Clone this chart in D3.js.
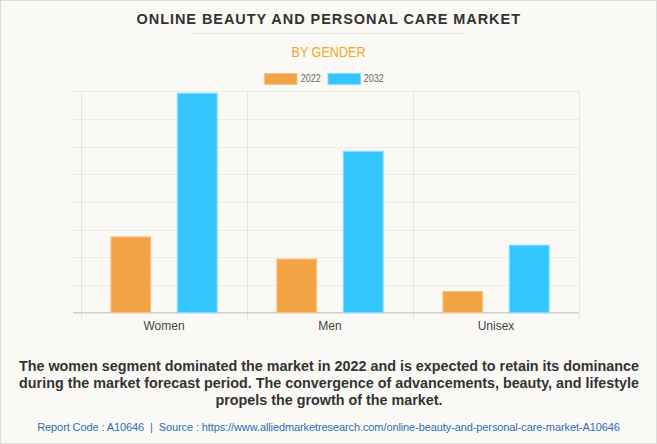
<!DOCTYPE html>
<html>
<head>
<meta charset="utf-8">
<script src="https://cdn.jsdelivr.net/npm/d3@7"></script>
<style>
  html, body { margin: 0; padding: 0; background: #fff; }
  svg { display: block; }
</style>
</head>
<body>
<script>
const categories = ["Women", "Men", "Unisex"];
const seriesNames = ["2022", "2032"];
const values2022 = [2.74, 1.94, 0.77];
const values2032 = [7.93, 5.83, 2.44];
const yTicks = [0, 1, 2, 3, 4, 5, 6, 7, 8];
const colors = ["#f2a444", "#33c6ff"];
const borderColors = ["#f7c68a", "#7fdcff"];

(function () {
const W = 657, H = 444;
const svg = d3.select("body").append("svg").attr("width", W).attr("height", H);

svg.append("rect").attr("x", 0.5).attr("y", 0.5).attr("width", W - 1).attr("height", H - 1)
  .attr("fill", "#faf9f5").attr("stroke", "#dddddd");

// Title
svg.append("text").attr("x", 136.5).attr("y", 24.3)
  .attr("font-family", "Liberation Sans, Arial, sans-serif").attr("font-weight", "bold")
  .attr("font-size", 14.5).attr("fill", "#333")
  .attr("textLength", 383.5).attr("lengthAdjust", "spacing")
  .text("ONLINE BEAUTY AND PERSONAL CARE MARKET");
svg.append("line").attr("x1", 193).attr("x2", 463).attr("y1", 33.5).attr("y2", 33.5)
  .attr("stroke", "#e6e6e6").attr("stroke-width", 1.5);
svg.append("text").attr("x", 291.5).attr("y", 57.3)
  .attr("font-family", "Liberation Sans, Arial, sans-serif")
  .attr("font-size", 14.8).attr("fill", "#f5a623")
  .attr("textLength", 74).attr("lengthAdjust", "spacingAndGlyphs")
  .text("BY GENDER");

// Legend
const legend = [{x: 264, tx: 300.7}, {x: 327.5, tx: 363.7}];
seriesNames.forEach((s, i) => {
  svg.append("rect").attr("x", legend[i].x + 0.5).attr("y", 73.5).attr("width", 32.5).attr("height", 11)
    .attr("fill", colors[i]).attr("stroke", borderColors[i]);
  svg.append("text").attr("x", legend[i].tx).attr("y", 81.5)
    .attr("font-family", "Liberation Sans, Arial, sans-serif")
    .attr("font-size", 10).attr("fill", "#666")
    .attr("textLength", 20).attr("lengthAdjust", "spacingAndGlyphs").text(s);
});

// Plot
const pLeft = 81, pRight = 579, pTop = 91.3, pBottom = 312.7;
const x0 = d3.scaleBand().domain(categories).range([pLeft, pRight]).paddingInner(0).paddingOuter(0);
const catW = x0.bandwidth();
const x1 = d3.scaleBand().domain(seriesNames).range([catW * 0.1, catW * 0.9]);
const y = d3.scaleLinear().domain([0, 8]).range([pBottom, pTop]);

const g = svg.append("g");
g.selectAll("line.h").data(yTicks.filter(t => t > 0)).join("line")
  .attr("x1", pLeft - 8).attr("x2", pRight)
  .attr("y1", d => Math.round(y(d)) + 0.5).attr("y2", d => Math.round(y(d)) + 0.5)
  .attr("stroke", "#ebebe6").attr("stroke-width", 1);
const bounds = categories.map(c => x0(c)).concat([pRight]);
g.selectAll("line.v").data(bounds).join("line")
  .attr("x1", d => Math.round(d) + 0.5).attr("x2", d => Math.round(d) + 0.5)
  .attr("y1", pTop).attr("y2", pBottom + 7)
  .attr("stroke", "#e6e6e1");
g.append("line").attr("x1", pLeft - 8).attr("x2", pRight).attr("y1", y(0)).attr("y2", y(0))
  .attr("stroke", "#d3d1cc").attr("stroke-width", 1.5);

const data = categories.map((c, i) => ({c, vals: [values2022[i], values2032[i]]}));
const barW = x1.bandwidth() * 0.6;
data.forEach(d => {
  d.vals.forEach((v, j) => {
    const cx = x0(d.c) + x1(seriesNames[j]) + x1.bandwidth() / 2;
    g.append("rect").attr("x", cx - barW / 2).attr("y", y(v))
      .attr("width", barW).attr("height", y(0) - y(v))
      .attr("fill", colors[j]).attr("stroke", borderColors[j]).attr("stroke-width", 1);
  });
});

g.selectAll("text.xl").data(categories).join("text")
  .attr("x", d => x0(d) + catW / 2).attr("y", 330).attr("text-anchor", "middle")
  .attr("font-family", "Liberation Sans, Arial, sans-serif").attr("font-size", 12)
  .attr("fill", "#444").text(d => d);

const lines = [
  "The women segment dominated the market in 2022 and is expected to retain its dominance",
  "during the market forecast period. The convergence of advancements, beauty, and lifestyle",
  "propels the growth of the market."
];
lines.forEach((l, i) => {
  svg.append("text").attr("x", 329).attr("y", 370.7 + i * 17.3).attr("text-anchor", "middle")
    .attr("font-family", "Liberation Sans, Arial, sans-serif").attr("font-weight", "bold")
    .attr("font-size", 14.35).attr("fill", "#333").text(l);
});
svg.append("text").attr("x", 328.5).attr("y", 431).attr("text-anchor", "middle")
  .attr("font-family", "Liberation Sans, Arial, sans-serif")
  .attr("font-size", 11).attr("letter-spacing", -0.1).attr("fill", "#2f6db5")
  .attr("xml:space", "preserve")
  .text("Report Code : A10646  |  Source : https://www.alliedmarketresearch.com/online-beauty-and-personal-care-market-A10646");
})();
</script>
</body>
</html>
